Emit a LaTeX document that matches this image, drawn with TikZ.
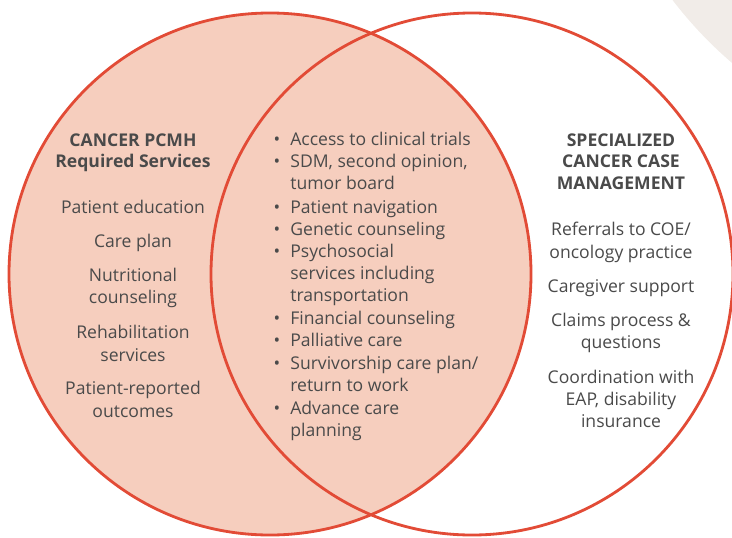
\documentclass[tikz,border=0pt]{standalone}
\usepackage{fontspec}
\setmainfont{Open Sans}
\usetikzlibrary{positioning}
\definecolor{vennred}{HTML}{E24B36}
\definecolor{vennfill}{HTML}{F6CEBE}
\definecolor{venngrey}{HTML}{F1ECE8}
\definecolor{venntext}{HTML}{4A4A4A}

\begin{document}
\begin{tikzpicture}[x=0.02cm,y=-0.02cm,
  ring/.style={draw=vennred,line width=1.6pt},
  item/.style={font=\fontsize{10}{12.7}\selectfont, text=venntext, inner sep=0pt, anchor=mid},
  head/.style={item, font=\fontsize{10}{12.7}\selectfont\bfseries},
  bul/.style={item, anchor=mid west}]
\useasboundingbox (0,0) rectangle (732,537);
\clip (0,0) rectangle (732,537);
% background and circles
\fill[venngrey] (1000,-250) circle (412);
\fill[white] (472,274) circle (261);
\fill[vennfill] (270,274) circle (261);
\draw[ring] (270,274) circle (261);
\draw[ring] (472,274) circle (261);
% Cancer PCMH
\foreach \y/\t [count=\i] in {140/CANCER PCMH, 161/Required Services}
  \node[head] (lh\i) at (133,\y+1.5) {\t};
\foreach \y/\t [count=\i] in {207/Patient education, 241/Care plan,
  275/Nutritional, 297/counseling, 332/Rehabilitation, 355/services,
  388/Patient-reported, 411/outcomes}
  \node[item] (l\i) at (133,\y+1.5) {\t};
% shared services
\foreach \y/\t [count=\i] in {139/Access to clinical trials,
  161/{SDM, second opinion,}, 183/tumor board, 207/Patient navigation,
  229/Genetic counseling, 251/Psychosocial, 273/services including,
  295/transportation, 318/Financial counseling, 340/Palliative care,
  363/{Survivorship care plan/}, 385/return to work, 408/Advance care,
  430/planning}
  \node[bul] (m\i) at (290,\y+1.5) {\t};
\foreach \y [count=\i] in {139,161,207,229,251,318,340,363,408}
  \node[item] (b\i) at (277,\y+1.5) {\textbullet};
% Specialized case management
\foreach \y/\t [count=\i] in {140/SPECIALIZED, 161/CANCER CASE, 183/MANAGEMENT}
  \node[head] (rh\i) at (621,\y+1.5) {\t};
\foreach \y/\t [count=\i] in {229/{Referrals to COE/}, 252/oncology practice,
  286/Caregiver support, 320/Claims process \&, 342/questions,
  377/Coordination with, 399/{EAP, disability}, 421/insurance}
  \node[item] (r\i) at (621,\y+1.5) {\t};
\end{tikzpicture}
\end{document}
